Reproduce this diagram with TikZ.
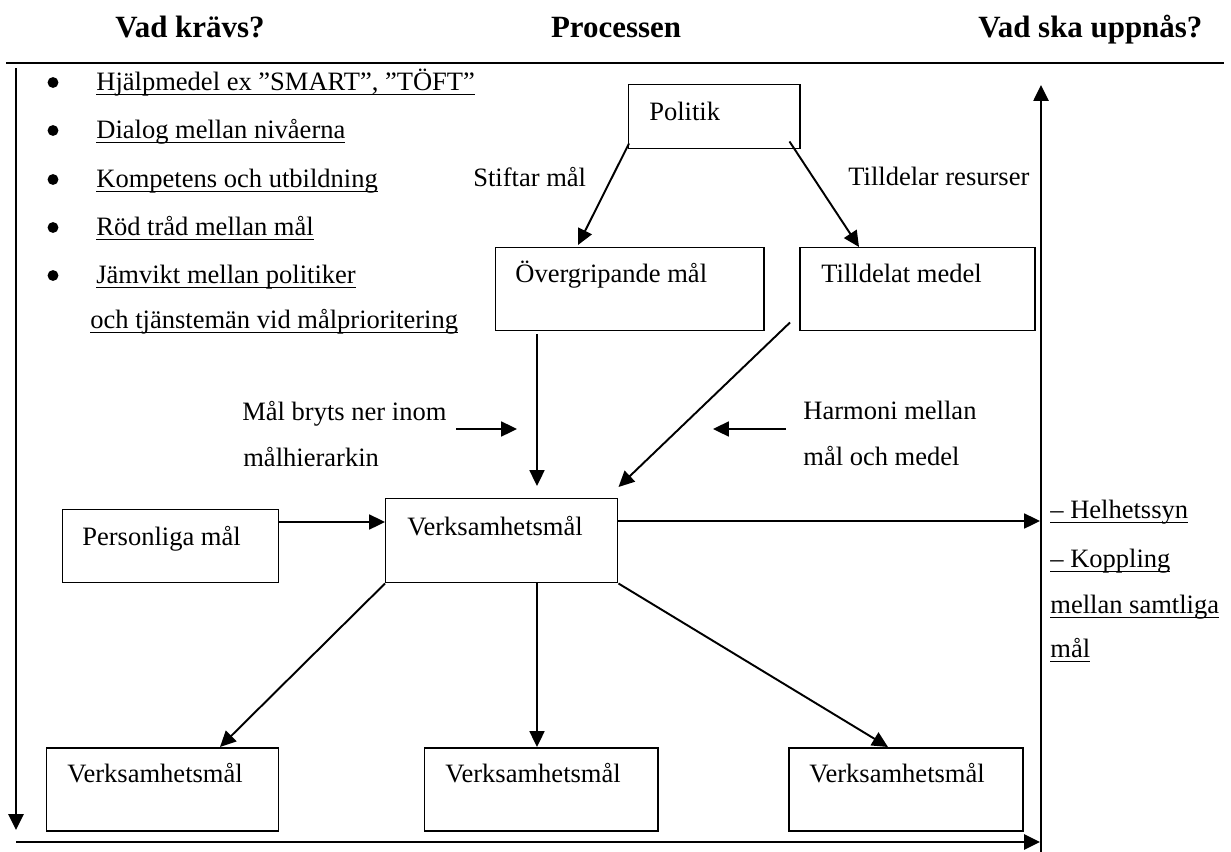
\documentclass[tikz,border=0pt]{standalone}
\usepackage{fontspec}
\setmainfont{Liberation Serif}
\usetikzlibrary{arrows.meta,calc}

% underline at a fixed depth below the baseline
\newcommand\undl[1]{\leavevmode\setbox0\hbox{#1}\rlap{\vrule height -2.2pt depth 3.0pt width \wd0}\box0}

% one drawing unit = 0.02cm
\newlength\px
\setlength\px{0.02cm}

\newcommand\bodyfont{\fontsize{15.1pt}{18pt}\selectfont}
\newcommand\headfont{\fontsize{17.6pt}{21pt}\selectfont\bfseries}

\tikzset{
  box/.style={draw, line width=0.85pt, inner sep=0pt, anchor=north west},
  txt/.style={inner sep=0pt, anchor=base west, font=\bodyfont},
  head/.style={inner sep=0pt, anchor=base, font=\headfont},
  tip/.style={-{Triangle[length=9pt,width=8.5pt]}},
  link/.style={line width=1.1pt, tip},
  axis/.style={line width=1.3pt},
  dot/.style={circle, fill, inner sep=0pt, minimum size=6.2pt},
}

\begin{document}
\begin{tikzpicture}[x=0.02cm, y=-0.02cm]
\useasboundingbox (0,0) rectangle (1231,852);

% column headings
\node[head, anchor=base west] (h1) at (115,37) {Vad krävs?};
\node[head] (h2) at (616,37) {Processen};
\node[head, anchor=base west] (h3) at (978,37) {Vad ska uppnås?};

% frame: top rule and the three arrows round the process
\coordinate (topL) at (6,63);
\coordinate (topR) at (1224,63);
\draw[axis] (topL) -- (topR);
\coordinate (lTop) at (16,68);
\coordinate (lBot) at (16,830);
\draw[axis, tip] (lTop) -- (lBot);
\coordinate (bL) at (16,842);
\coordinate (bR) at (1040,842);
\draw[axis, tip] (bL) -- (bR);
\coordinate (rBot) at (1041,852);
\coordinate (rTop) at (1041,85);
\draw[axis, tip] (rBot) -- (rTop);

% requirements list
\node[dot] (d1) at (53,82.5) {};
\node[dot] (d2) at (53,130.5) {};
\node[dot] (d3) at (53,179.5) {};
\node[dot] (d4) at (53,227.5) {};
\node[dot] (d5) at (53,275.5) {};
\node[txt] (r1) at (96,90) {\undl{Hjälpmedel ex ”SMART”, ”TÖFT”}};
\node[txt] (r2) at (96,138) {\undl{Dialog mellan nivåerna}};
\node[txt] (r3) at (96,187) {\undl{Kompetens och utbildning}};
\node[txt] (r4) at (96,235) {\undl{Röd tråd mellan mål}};
\node[txt] (r5) at (96,283) {\undl{Jämvikt mellan politiker}};
\node[txt] (r6) at (90,328) {\undl{och tjänstemän vid målprioritering}};

% boxes
\node[box, minimum width=171\px, minimum height=64\px] (politik) at (628,84) {};
\node[txt] (politik-t) at (649,120) {Politik};
\node[box, minimum width=268\px, minimum height=83\px] (overgr) at (495,247) {};
\node[txt] (overgr-t) at (515,282) {Övergripande mål};
\node[box, minimum width=235\px, minimum height=83\px] (tilldelat) at (799,247) {};
\node[txt] (tilldelat-t) at (821,282) {Tilldelat medel};
\node[box, minimum width=232\px, minimum height=84\px] (verks) at (385,498) {};
\node[txt] (verks-t) at (407,535) {Verksamhetsmål};
\node[box, minimum width=216\px, minimum height=73\px] (pers) at (62,509) {};
\node[txt] (pers-t) at (82,545) {Personliga mål};
\node[box, minimum width=232\px, minimum height=83\px] (vb1) at (46,747) {};
\node[txt] (vb1-t) at (67,782) {Verksamhetsmål};
\node[box, minimum width=233\px, minimum height=83\px] (vb2) at (424,747) {};
\node[txt] (vb2-t) at (445,782) {Verksamhetsmål};
\node[box, minimum width=234\px, minimum height=83\px] (vb3) at (788,747) {};
\node[txt] (vb3-t) at (809,782) {Verksamhetsmål};

% arrow labels
\node[txt] (stiftar) at (473,186) {Stiftar mål};
\node[txt] (tilldelar) at (848,185) {Tilldelar resurser};
\node[txt] (bryts1) at (242,420) {Mål bryts ner inom};
\node[txt] (bryts2) at (243,466) {målhierarkin};
\node[txt] (harm1) at (803,419) {Harmoni mellan};
\node[txt] (harm2) at (803,465) {mål och medel};

% outcomes
\node[txt] (o1) at (1050,518) {\undl{– Helhetssyn}};
\node[txt] (o2) at (1050,567) {\undl{– Koppling}};
\node[txt] (o3) at (1050,613) {\undl{mellan samtliga}};
\node[txt] (o4) at (1050,657) {\undl{mål}};

% connectors
\draw[link] ($(politik.south west)+(1,-6)$) -- ($(overgr.north west)+(83,-2)$);
\draw[link] ($(politik.south east)+(-11,-8)$) -- ($(tilldelat.north west)+(60,0)$);
\draw[link] ($(overgr.south west)+(42,3)$) -- ($(verks.north west)+(152,-12)$);
\draw[link] ($(tilldelat.south west)+(-9,-9)$) -- ($(verks.north east)+(0,-11)$);
\draw[link] ($(pers.north east)+(0,13)$) -- ($(verks.north west)+(0,24)$);
\coordinate (helh) at (1040,521);
\draw[link] ($(verks.north east)+(0,23)$) -- (helh);
\draw[link] (verks.south west) -- ($(vb1.north west)+(174,0)$);
\draw[link] ($(verks.south west)+(152,0)$) -- ($(vb2.north west)+(113,0)$);
\draw[link] (verks.south east) -- ($(vb3.north west)+(100,0)$);

% side arrows beside the labels
\coordinate (bA) at (456,429);
\coordinate (bB) at (517,429);
\draw[link] (bA) -- (bB);
\coordinate (hA) at (786,429);
\coordinate (hB) at (713,429);
\draw[link] (hA) -- (hB);
\end{tikzpicture}
\end{document}
